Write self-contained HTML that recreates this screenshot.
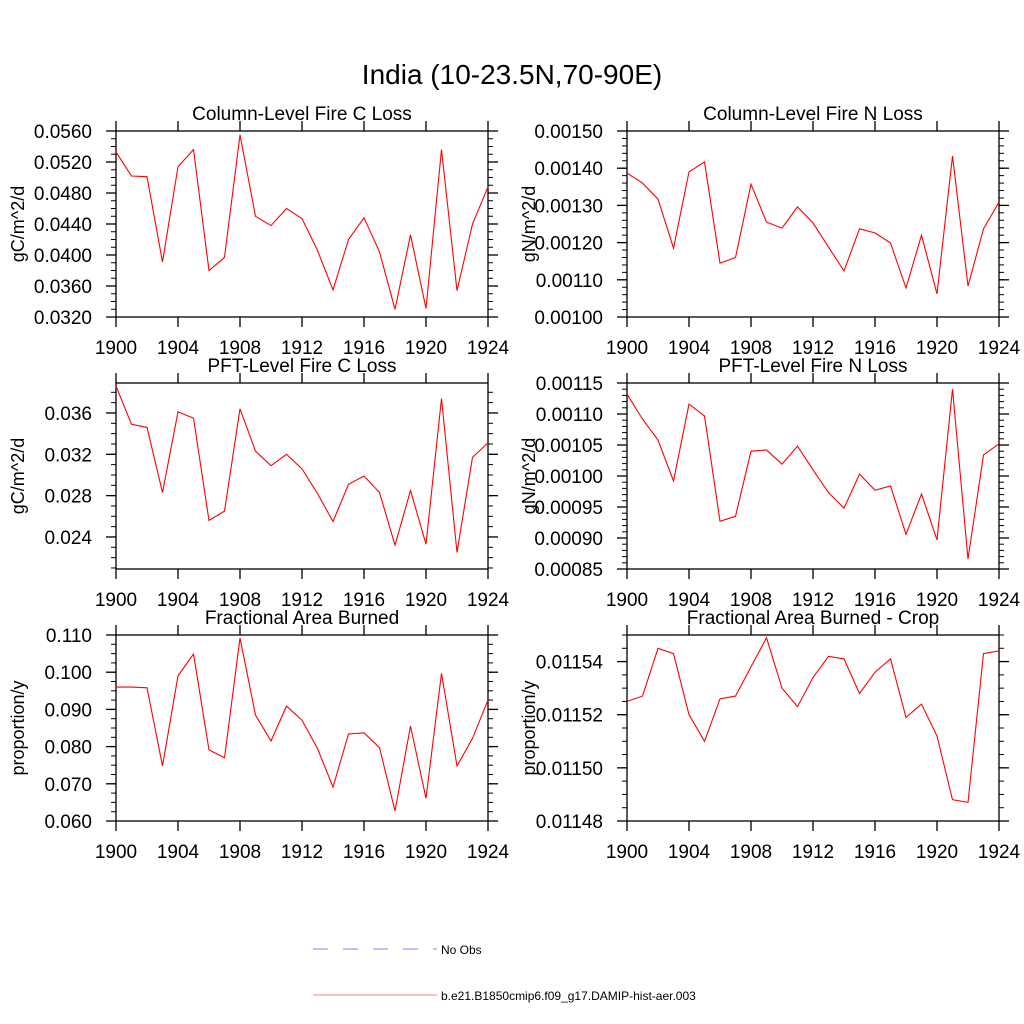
<!DOCTYPE html>
<html><head><meta charset="utf-8"><style>
html,body{margin:0;padding:0;background:#fff;}
svg{display:block;font-family:"Liberation Sans",sans-serif;}
</style></head><body>
<svg id="fig" width="1024" height="1024" viewBox="0 0 1024 1024" xmlns="http://www.w3.org/2000/svg">
<text x="512" y="84" text-anchor="middle" font-size="28">India (10-23.5N,70-90E)</text>
<g>
<line x1="313" y1="949" x2="437" y2="949" stroke="#8080ff" stroke-width="1" stroke-dasharray="15,15"/>
<text x="441" y="954" font-size="12">No Obs</text>
<line x1="313" y1="995" x2="437" y2="995" stroke="#ff8080" stroke-width="1"/>
<text x="441" y="1000" font-size="12">b.e21.B1850cmip6.f09_g17.DAMIP-hist-aer.003</text>
</g>
</svg>
<script>
const years = [1900,1901,1902,1903,1904,1905,1906,1907,1908,1909,1910,1911,1912,1913,1914,1915,1916,1917,1918,1919,1920,1921,1922,1923,1924];
const xTickLabels = ["1900","1904","1908","1912","1916","1920","1924"];
const colFireC = [0.0533,0.0502,0.0501,0.0391,0.0514,0.0536,0.0380,0.0397,0.0555,0.0450,0.0438,0.0460,0.0447,0.0406,0.0355,0.0420,0.0448,0.0404,0.0330,0.0426,0.0331,0.0536,0.0354,0.0440,0.0488];
const colFireN = [0.001387,0.00136,0.001317,0.001185,0.00139,0.001417,0.001145,0.00116,0.001357,0.001255,0.001239,0.001296,0.001253,0.001188,0.001124,0.001237,0.001226,0.001199,0.001078,0.00122,0.001062,0.001433,0.001083,0.001237,0.001309];
const pftFireC = [0.0386,0.0349,0.0346,0.0283,0.0361,0.0355,0.0256,0.0265,0.0364,0.0323,0.0309,0.0320,0.0306,0.0282,0.0255,0.0291,0.0299,0.0283,0.0232,0.0285,0.0233,0.0374,0.0225,0.0317,0.0331];
const pftFireN = [0.001132,0.001092,0.001058,0.000992,0.001116,0.001097,0.000927,0.000935,0.00104,0.001042,0.001019,0.001048,0.00101,0.000973,0.000948,0.001003,0.000977,0.000984,0.000906,0.000971,0.000897,0.00114,0.000866,0.001034,0.001052];
const fracBurn = [0.0960,0.0960,0.0958,0.0748,0.0990,0.1049,0.0791,0.0770,0.1092,0.0885,0.0815,0.0909,0.0871,0.0795,0.0691,0.0834,0.0837,0.0797,0.0627,0.0855,0.0661,0.0997,0.0748,0.0822,0.0925];
const fracBurnCrop = [0.011525,0.011527,0.011545,0.011543,0.011520,0.011510,0.011526,0.011527,0.011538,0.011549,0.011530,0.011523,0.011534,0.011542,0.011541,0.011528,0.011536,0.011541,0.011519,0.011524,0.011512,0.011488,0.011487,0.011543,0.011544];
const ticks1 = ["0.0320","0.0360","0.0400","0.0440","0.0480","0.0520","0.0560"];
const ticks2 = ["0.00100","0.00110","0.00120","0.00130","0.00140","0.00150"];
const ticks3 = ["0.024","0.028","0.032","0.036"];
const ticks4 = ["0.00085","0.00090","0.00095","0.00100","0.00105","0.00110","0.00115"];
const ticks5 = ["0.060","0.070","0.080","0.090","0.100","0.110"];
const ticks6 = ["0.01148","0.01150","0.01152","0.01154"];

const NS="http://www.w3.org/2000/svg";
const svg=document.getElementById('fig');
function mk(tag,attrs,parent){const e=document.createElementNS(NS,tag);for(const k in attrs)e.setAttribute(k,attrs[k]);parent.appendChild(e);return e;}

const panels=[
 {name:'column-fire-c',title:'Column-Level Fire C Loss',ylab:'gC/m^2/d',x0:116,y0:131,data:colFireC,ymin:0.032,ymax:0.056,ticks:ticks1,minorStep:0.001},
 {name:'column-fire-n',title:'Column-Level Fire N Loss',ylab:'gN/m^2/d',x0:627,y0:131,data:colFireN,ymin:0.001,ymax:0.0015,ticks:ticks2,minorStep:0.00002},
 {name:'pft-fire-c',title:'PFT-Level Fire C Loss',ylab:'gC/m^2/d',x0:116,y0:383,data:pftFireC,ymin:0.0209,ymax:0.0389,ticks:ticks3,minorStep:0.001},
 {name:'pft-fire-n',title:'PFT-Level Fire N Loss',ylab:'gN/m^2/d',x0:627,y0:383,data:pftFireN,ymin:0.00085,ymax:0.00115,ticks:ticks4,minorStep:0.00001},
 {name:'frac-area-burned',title:'Fractional Area Burned',ylab:'proportion/y',x0:116,y0:635,data:fracBurn,ymin:0.06,ymax:0.11,ticks:ticks5,minorStep:0.0025},
 {name:'frac-area-burned-crop',title:'Fractional Area Burned - Crop',ylab:'proportion/y',x0:627,y0:635,data:fracBurnCrop,ymin:0.01148,ymax:0.011550,ticks:ticks6,minorStep:0.000005}
];
const W=372,H=186;
panels.forEach(p=>{
 const g=mk('g',{},svg);
 
 
 const xs=v=>p.x0+(v-1900)/24*W;
 const ys=v=>p.y0+H-(v-p.ymin)/(p.ymax-p.ymin)*H;
 const t=mk('text',{x:p.x0+W/2,y:p.y0-11,'text-anchor':'middle','font-size':'19'},g);
 t.textContent=p.title;
 
 
 const yl=mk('text',{x:0,y:0,'text-anchor':'middle','font-size':'18',transform:`translate(${p.x0-92},${p.y0+H/2}) rotate(-90)`},g);
 yl.textContent=p.ylab;
 
 
 const start=Math.ceil(p.ymin/p.minorStep-1e-6);
 for(let k=start;k*p.minorStep<=p.ymax+1e-12;k++){
  const y=ys(k*p.minorStep);
  mk('line',{x1:p.x0-5,x2:p.x0,y1:y,y2:y,stroke:'#000','stroke-width':1},g);
  mk('line',{x1:p.x0+W,x2:p.x0+W+5,y1:y,y2:y,stroke:'#000','stroke-width':1},g);
 }
 p.ticks.forEach(lbl=>{
  const y=ys(parseFloat(lbl));
  mk('line',{x1:p.x0-10,x2:p.x0,y1:y,y2:y,stroke:'#000','stroke-width':1.3},g);
  mk('line',{x1:p.x0+W,x2:p.x0+W+10,y1:y,y2:y,stroke:'#000','stroke-width':1.3},g);
  const tl=mk('text',{x:p.x0-24,y:y+7,'text-anchor':'end','font-size':'19'},g);
  tl.textContent=lbl;
  
  
 });
 xTickLabels.forEach(lbl=>{
  const x=xs(parseFloat(lbl));
  mk('line',{x1:x,x2:x,y1:p.y0-10,y2:p.y0,stroke:'#000','stroke-width':1.3},g);
  mk('line',{x1:x,x2:x,y1:p.y0+H,y2:p.y0+H+10,stroke:'#000','stroke-width':1.3},g);
  const tl=mk('text',{x:x,y:p.y0+H+37,'text-anchor':'middle','font-size':'19'},g);
  tl.textContent=lbl;
  
  
 });
 const fr=mk('rect',{x:p.x0,y:p.y0,width:W,height:H,fill:'none',stroke:'#000','stroke-width':1.3},g);
 
 
 const pts=p.data.map((v,i)=>xs(years[i]).toFixed(1)+','+ys(v).toFixed(1)).join(' ');
 const pl=mk('polyline',{points:pts,fill:'none',stroke:'#ff0000','stroke-width':1.1},g);
 
 
});
</script>
</body></html>
